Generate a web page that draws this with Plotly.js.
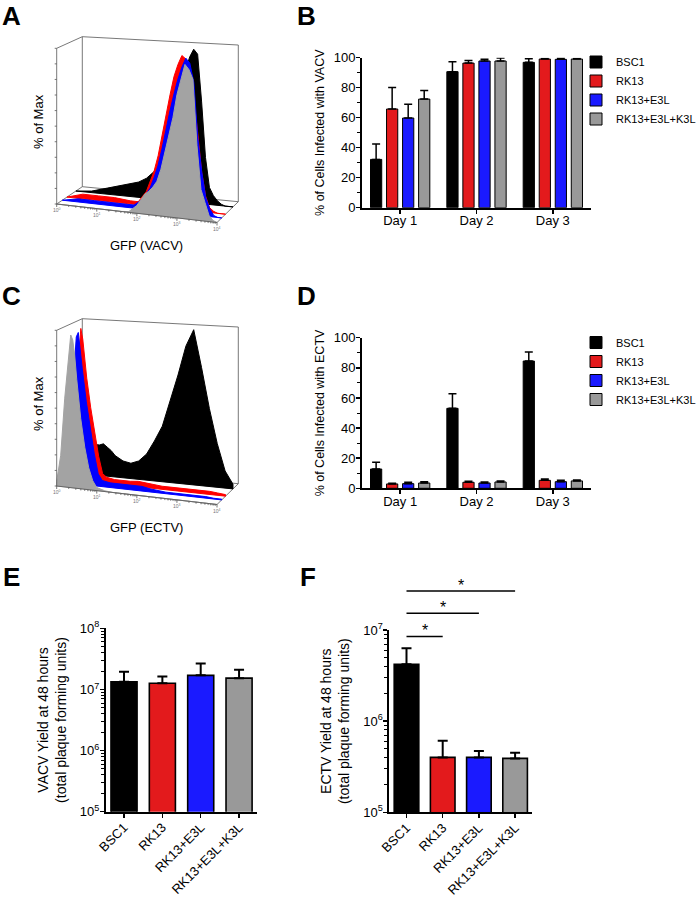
<!DOCTYPE html>
<html>
<head>
<meta charset="utf-8">
<script src="https://cdn.plot.ly/plotly-3.0.1.min.js"></script>
<style>
html,body{margin:0;padding:0;background:#fff;}
#chart{width:699px;height:900px;}
</style>
</head>
<body>
<div id="chart"></div>
<script>
// ================= DATA =================
const cellLines = ['BSC1', 'RK13', 'RK13+E3L', 'RK13+E3L+K3L'];
const days = ['Day 1', 'Day 2', 'Day 3'];

// Panel B: % of cells infected with VACV (per day) and upper error (SD)
const vacvBSC1 = [32.2, 90.7, 96.9];
const vacvBSC1Err = [10.2, 6.6, 2.4];
const vacvRK13 = [65.8, 96.4, 99.1];
const vacvRK13Err = [14.4, 1.8, 0.4];
const vacvE3L = [59.8, 97.8, 98.9];
const vacvE3LErr = [9.1, 1.1, 0.9];
const vacvK3L = [72.4, 97.8, 99.1];
const vacvK3LErr = [5.8, 2.0, 0.4];

// Panel D: % of cells infected with ECTV
const ectvBSC1 = [12.8, 53.1, 84.5];
const ectvBSC1Err = [4.5, 9.7, 6.0];
const ectvRK13 = [2.9, 4.0, 5.3];
const ectvRK13Err = [0.5, 0.6, 0.9];
const ectvE3L = [3.1, 3.5, 4.4];
const ectvE3LErr = [0.9, 0.7, 0.9];
const ectvK3L = [3.5, 4.2, 4.9];
const ectvK3LErr = [0.9, 0.7, 0.6];

// Panel E: VACV yield at 48 h (pfu)
const vacvYield = [1.33e7, 1.26e7, 1.70e7, 1.53e7];
const vacvYieldErr = [0.62e7, 0.36e7, 0.96e7, 0.56e7];
// Panel F: ECTV yield at 48 h (pfu)
const ectvYield = [4.2e6, 4.0e5, 4.0e5, 3.9e5];
const ectvYieldErr = [2.1e6, 2.1e5, 0.7e5, 0.6e5];
// Significance comparisons in F (BSC1 vs group index)
const sigPairs = [[0, 1], [0, 2], [0, 3]];
const sigLabels = ['*', '*', '*'];

// Panel A: GFP (VACV) histograms, % of max, on log10 GFP decades
const gfpDecA = [0, 0.4, 0.8, 1.2, 1.6, 1.8, 2.0, 2.2, 2.3, 2.4, 2.5, 2.6, 2.7, 2.8, 2.9, 3.0, 3.1, 3.2, 3.3, 3.4, 3.5, 3.6, 3.7, 3.8, 3.9, 4.0];
const vacvHistBSC1 = [0, 1, 4, 7, 10, 13, 18, 28, 35, 45, 55, 65, 76, 86, 94, 99, 96, 66, 30, 11, 6, 3, 1, 0, 0, 0];
const vacvHistRK13 = [0, 3, 3, 3, 2, 2, 9, 23, 33, 47, 60, 73, 85, 93, 99, 97, 88, 72, 50, 25, 10, 3, 1, 0, 0, 0];
const vacvHistE3L = [0, 2, 2, 2, 2, 2, 6, 14, 21, 29, 40, 53, 65, 76, 86, 94, 100, 97, 85, 50, 28, 12, 5, 1, 0, 0];
const vacvHistK3L = [0, 0, 0, 0, 0, 0.5, 5, 13, 15, 18, 22, 30, 42, 52, 64, 79, 90, 99, 96, 90, 48, 20, 12, 4, 1, 0];

// Panel C: GFP (ECTV) histograms
const gfpDecC = [0, 0.1, 0.2, 0.3, 0.35, 0.4, 0.45, 0.5, 0.6, 0.7, 0.8, 0.9, 1.0, 1.2, 1.4, 1.6, 1.8, 2.0, 2.2, 2.4, 2.6, 2.8, 3.0, 3.2, 3.4, 3.6, 3.8, 4.0];
const ectvHistBSC1 = [0, 5, 15, 20, 22, 22, 21, 20, 20, 21, 19, 17, 14, 11, 10, 12, 17, 26, 36, 53, 70, 89, 100, 76, 50, 28, 11, 3];
const ectvHistRK13 = [0, 10, 45, 85, 99, 92, 80, 67, 48, 32, 17, 6, 4, 3, 3, 3, 3.5, 3, 2.5, 2, 2, 2, 2, 2, 2, 2, 1.5, 1];
const ectvHistE3L = [0, 8, 35, 80, 95, 98, 88, 75, 54, 37, 21, 8, 4, 3, 3, 3, 3, 3, 2, 1.5, 1, 1, 1, 1, 1, 1, 0.5, 0.5];
const ectvHistK3L = [3, 20, 57, 88, 98, 95, 85, 70, 45, 27, 14, 6, 2, 0.5, 0, 0, 0, 0, 0, 0, 0, 0, 0, 0, 0, 0, 0, 0];
const gfpDecades = [0, 1, 2, 3, 4];

// ================= STYLE =================
const W = 699, H = 900;
const FONT = 'Liberation Sans, Arial, Helvetica, sans-serif';
const barColors = ['#000000', '#e31a1c', '#1a1aff', '#999999'];
const histColors = ['#000000', '#ff0000', '#0000ff', '#a3a3a3'];
const histDepth = [0.75, 0.4, 0.22, 0.0];
const px = x => x / W, py = y => 1 - y / H;
// 3D box corners (pixels) for the offset-histogram panel A; C is shifted down
const BOX = {
  f0b: [56.7, 204], f1b: [217, 222.5], b0b: [82.3, 186.7], b1b: [238.3, 201.7],
  f0t: [56.7, 48.3], f1t: [217, 66.5], b0t: [82.3, 36.7], b1t: [238.3, 45]
};
const SHIFT_C = 282;

function lerp(a, b, s) { return [a[0] + (b[0] - a[0]) * s, a[1] + (b[1] - a[1]) * s]; }
function proj(u, t, h, dy) {
  const fb = lerp(BOX.f0b, BOX.f1b, u), bb = lerp(BOX.b0b, BOX.b1b, u);
  const ft = lerp(BOX.f0t, BOX.f1t, u), bt = lerp(BOX.b0t, BOX.b1t, u);
  const p = lerp(lerp(fb, bb, t), lerp(ft, bt, t), h);
  return [p[0], p[1] + dy];
}

const traces = [];

function frameTraces(dy) {
  const back = [['f0t', 'b0t'], ['b0t', 'b0b'], ['b0t', 'b1t'], ['b1t', 'b1b'], ['b0b', 'b1b'], ['f0b', 'b0b'], ['f1b', 'b1b']];
  const bx = [], by = [];
  back.forEach(([a, b]) => { bx.push(BOX[a][0], BOX[b][0], null); by.push(BOX[a][1] + dy, BOX[b][1] + dy, null); });
  const fx = [], fy = [];
  [['f0b', 'f0t'], ['f0b', 'f1b']].forEach(([a, b]) => { fx.push(BOX[a][0], BOX[b][0], null); fy.push(BOX[a][1] + dy, BOX[b][1] + dy, null); });
  // log ticks along the front-bottom edge
  for (let d = 0; d <= 4; d++) {
    for (let k = 1; k <= 9; k++) {
      if (d === 4 && k > 1) break;
      const u = (d + Math.log10(k)) / 4;
      const p = proj(u, 0, 0, dy);
      const len = k === 1 ? 3 : 1.6;
      fx.push(p[0], p[0], null); fy.push(p[1], p[1] + len, null);
    }
  }
  // ticks on front-left edge
  for (let i = 0; i <= 10; i++) {
    const p = proj(0, 0, i / 10, dy);
    fx.push(p[0] - 2, p[0], null); fy.push(p[1], p[1], null);
  }
  const base = { type: 'scatter', mode: 'lines', xaxis: 'x', yaxis: 'y', hoverinfo: 'skip', showlegend: false };
  return [
    Object.assign({}, base, { x: bx, y: by, line: { color: '#555', width: 0.8 } }),
    Object.assign({}, base, { x: fx, y: fy, line: { color: '#555', width: 0.8 } })
  ];
}

function histTrace(dec, vals, t, color, dy) {
  const xs = [], ys = [];
  dec.forEach((d, i) => { const p = proj(d / 4, t, vals[i] / 100, dy); xs.push(p[0]); ys.push(p[1]); });
  const pe = proj(dec[dec.length - 1] / 4, t, 0, dy), ps = proj(dec[0] / 4, t, 0, dy);
  xs.push(pe[0], ps[0], xs[0]); ys.push(pe[1], ps[1], ys[0]);
  return { type: 'scatter', mode: 'lines', x: xs, y: ys, fill: 'toself', fillcolor: color,
    line: { color: color, width: 1 }, xaxis: 'x', yaxis: 'y', hoverinfo: 'skip', showlegend: false };
}

// Panel A
const frA = frameTraces(0);
traces.push(frA[0]);
[vacvHistBSC1, vacvHistRK13, vacvHistE3L, vacvHistK3L].forEach((v, i) => traces.push(histTrace(gfpDecA, v, histDepth[i], histColors[i], 0)));
traces.push(frA[1]);
// Panel C
const frC = frameTraces(SHIFT_C);
traces.push(frC[0]);
[ectvHistBSC1, ectvHistRK13, ectvHistE3L, ectvHistK3L].forEach((v, i) => traces.push(histTrace(gfpDecC, v, histDepth[i], histColors[i], SHIFT_C)));
traces.push(frC[1]);

// Panels B and D
function groupBars(vals, errs, ax, ay, legend) {
  vals.forEach((v, i) => {
    traces.push({
      type: 'bar', name: cellLines[i], x: days, y: v, xaxis: ax, yaxis: ay, legend: legend,
      marker: { color: barColors[i], line: { color: '#000', width: 1 } },
      error_y: { type: 'data', symmetric: false, array: errs[i], arrayminus: errs[i].map(() => 0), color: '#000', thickness: 1.5, width: 4 },
      hoverinfo: 'skip'
    });
  });
}
groupBars([vacvBSC1, vacvRK13, vacvE3L, vacvK3L], [vacvBSC1Err, vacvRK13Err, vacvE3LErr, vacvK3LErr], 'x3', 'y3', 'legend');
groupBars([ectvBSC1, ectvRK13, ectvE3L, ectvK3L], [ectvBSC1Err, ectvRK13Err, ectvE3LErr, ectvK3LErr], 'x4', 'y4', 'legend2');

// Panels E and F
function yieldBars(vals, errs, ax, ay) {
  traces.push({
    type: 'bar', x: cellLines, y: vals, xaxis: ax, yaxis: ay, width: 0.68, showlegend: false,
    marker: { color: barColors, line: { color: '#000', width: 1.6 } },
    error_y: { type: 'data', symmetric: false, array: errs, arrayminus: errs.map(() => 0), color: '#000', thickness: 2, width: 5 },
    hoverinfo: 'skip'
  });
}
yieldBars(vacvYield, vacvYieldErr, 'x5', 'y5');
yieldBars(ectvYield, ectvYieldErr, 'x6', 'y6');

// ================= LAYOUT =================
const axBlack = { showline: true, linewidth: 2, linecolor: '#000', ticks: 'outside', ticklen: 4, tickwidth: 1.5, tickcolor: '#000',
  showgrid: false, zeroline: false, fixedrange: true, automargin: false, tickfont: { size: 13, color: '#000' } };

function catX(domain, anchor, cats, range, angle, standoff) {
  return Object.assign({}, axBlack, { domain: domain, anchor: anchor, type: 'category', categoryorder: 'array', categoryarray: cats,
    range: range, tickangle: angle, ticklabelstandoff: standoff });
}

const logTicks = [1e5, 1e6, 1e7, 1e8];
const logText = ['10<sup>5</sup>', '10<sup>6</sup>', '10<sup>7</sup>', '10<sup>8</sup>'];
const minorLin = { ticks: 'outside', ticklen: 3, tickwidth: 1, tickcolor: '#000', dtick: 10, tick0: 0 };
const minorLog = { ticks: 'outside', ticklen: 3, tickwidth: 1, tickcolor: '#000', dtick: 'D1' };

const layout = {
  width: W, height: H, autosize: false, margin: { l: 0, r: 0, t: 0, b: 0, pad: 0, autoexpand: false },
  paper_bgcolor: '#fff', plot_bgcolor: 'rgba(0,0,0,0)',
  font: { family: FONT, size: 13, color: '#000' },
  barmode: 'group', bargap: 0.16, bargroupgap: 0.3,
  xaxis: { domain: [0, px(250)], range: [0, 250], visible: false, fixedrange: true },
  yaxis: { domain: [py(560), 1], range: [560, 0], visible: false, fixedrange: true },

  xaxis3: catX([px(362), px(591)], 'y3', days, [-0.5, 2.5], 0, -4),
  yaxis3: Object.assign({}, axBlack, { domain: [py(207.7), py(57.7)], anchor: 'x3', range: [0, 100], tickvals: [0, 20, 40, 60, 80, 100],
    ticklabelstandoff: -2, minor: minorLin,
    title: { text: '% of Cells Infected with VACV', font: { size: 12.5 }, standoff: 6 } }),
  xaxis4: catX([px(362), px(591)], 'y4', days, [-0.5, 2.5], 0, -4),
  yaxis4: Object.assign({}, axBlack, { domain: [py(488.3), py(337.7)], anchor: 'x4', range: [0, 100], tickvals: [0, 20, 40, 60, 80, 100],
    ticklabelstandoff: -2, minor: minorLin,
    title: { text: '% of Cells Infected with ECTV', font: { size: 12.5 }, standoff: 6 } }),

  xaxis5: catX([px(106), px(256.7)], 'y5', cellLines, [-0.47, 3.46], -45, -3),
  yaxis5: Object.assign({}, axBlack, { domain: [py(811.7), py(628.3)], anchor: 'x5', type: 'log', range: [5, 8],
    tickmode: 'array', tickvals: logTicks, ticktext: logText, ticklabelstandoff: -2, minor: minorLog,
    title: { text: 'VACV Yield at 48 hours<br>(total plaque forming units)', font: { size: 14 }, standoff: 10 } }),
  xaxis6: catX([px(389.3), px(532.3)], 'y6', cellLines, [-0.475, 3.475], -45, -3),
  yaxis6: Object.assign({}, axBlack, { domain: [py(812.3), py(630)], anchor: 'x6', type: 'log', range: [5, 7],
    tickmode: 'array', tickvals: logTicks.slice(0, 3), ticktext: logText.slice(0, 3), ticklabelstandoff: -2, minor: minorLog,
    title: { text: 'ECTV Yield at 48 hours<br>(total plaque forming units)', font: { size: 14 }, standoff: 10 } }),

  legend: { x: px(576), y: py(47.5), xanchor: 'left', yanchor: 'top', font: { size: 11 }, bgcolor: 'rgba(0,0,0,0)', tracegroupgap: 0 },
  legend2: { x: px(576), y: py(328), xanchor: 'left', yanchor: 'top', font: { size: 11 }, bgcolor: 'rgba(0,0,0,0)', tracegroupgap: 0 },
  shapes: [],
  annotations: []
};

// significance bars in F
const sigLevels = [0.965, 1.092, 1.214];
sigPairs.forEach(([a, b], i) => {
  layout.shapes.push({ type: 'line', xref: 'x6', yref: 'y6 domain', x0: a, x1: b, y0: sigLevels[i], y1: sigLevels[i], line: { color: '#000', width: 1.5 } });
  layout.annotations.push({ xref: 'x6', yref: 'y6 domain', x: (a + b) / 2, y: sigLevels[i], yanchor: 'bottom', yshift: -5, text: sigLabels[i], showarrow: false, font: { size: 16 } });
});

// panel letters
[['A', 0, -1], ['B', 295, -1], ['C', 0, 279], ['D', 295, 279], ['E', 1, 560], ['F', 298, 560]].forEach(([t, x, y]) => {
  layout.annotations.push({ xref: 'paper', yref: 'paper', x: px(x), y: py(y), xanchor: 'left', yanchor: 'top', text: '<b>' + t + '</b>', showarrow: false, font: { size: 26 } });
});

// histogram panel labels
[[0, 'GFP (VACV)'], [SHIFT_C, 'GFP (ECTV)']].forEach(([dy, label]) => {
  layout.annotations.push({ xref: 'x', yref: 'y', x: 146.7, y: 245.5 + dy, text: label, showarrow: false, font: { size: 13 } });
  layout.annotations.push({ xref: 'x', yref: 'y', x: 38, y: 122 + dy, text: '% of Max', textangle: -90, showarrow: false, font: { size: 13 } });
  gfpDecades.forEach(d => {
    const p = proj(d / 4, 0, 0, dy);
    layout.annotations.push({ xref: 'x', yref: 'y', x: p[0], y: p[1] + 6, text: '10<sup>' + d + '</sup>', showarrow: false, font: { size: 5, color: '#777' } });
  });
});

Plotly.newPlot('chart', traces, layout, { staticPlot: true, displayModeBar: false });
</script>
</body>
</html>
